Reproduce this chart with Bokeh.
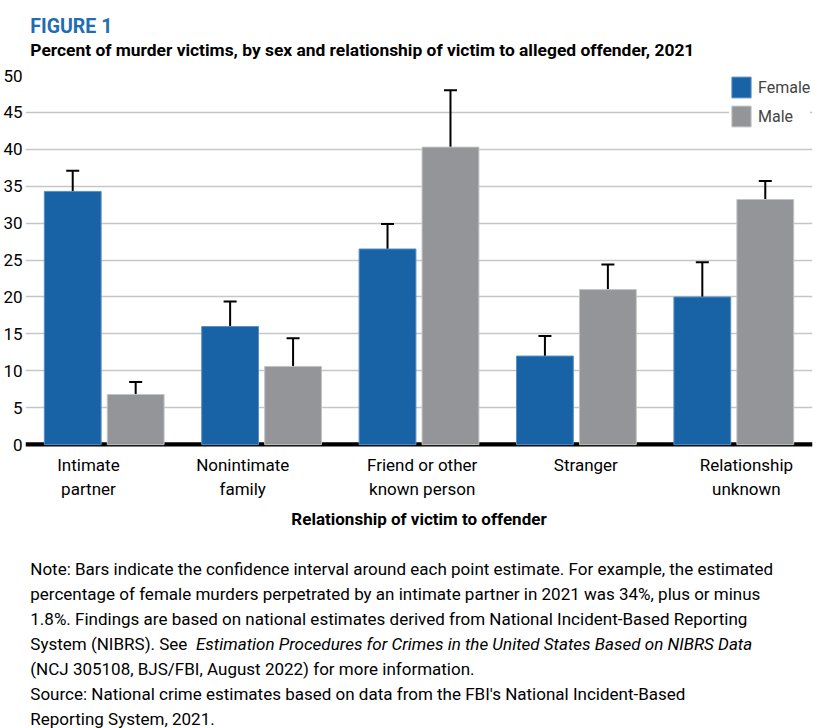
from bokeh.plotting import figure
from bokeh.models import (Range1d, Whisker, TeeHead, Legend, LegendItem,
                          ColumnDataSource, Span, FixedTicker)
from bokeh.transform import dodge
from bokeh.layouts import column
from bokeh.core.properties import value
from bokeh.embed import file_html
from bokeh.resources import INLINE

# ---------------- data ----------------
categories = ["Intimate\npartner", "Nonintimate\nfamily", "Friend or other\nknown person",
              "Stranger", "Relationship\nunknown"]
female = [34.3, 16.0, 26.5, 12.0, 20.0]
female_lo = [31.3, 13.7, 23.8, 10.8, 17.2]
female_hi = [37.1, 19.4, 29.9, 14.7, 24.7]
male = [6.8, 10.6, 40.3, 21.0, 33.2]
male_lo = [4.9, 7.1, 33.2, 18.8, 31.2]
male_hi = [8.5, 14.4, 48.0, 24.4, 35.7]
y_ticks = [0, 5, 10, 15, 20, 25, 30, 35, 40, 45, 50]

fig_label = "FIGURE 1"
subtitle = "Percent of murder victims, by sex and relationship of victim to alleged offender, 2021"
x_title = "Relationship of victim to offender"
note_lines = [
    "Note: Bars indicate the confidence interval around each point estimate. For example, the estimated",
    "percentage of female murders perpetrated by an intimate partner in 2021 was 34%, plus or minus",
    "1.8%. Findings are based on national estimates derived from National Incident-Based Reporting",
    "System (NIBRS). See",
    "(NCJ 305108, BJS/FBI, August 2022) for more information.",
    "Source: National crime estimates based on data from the FBI's National Incident-Based",
    "Reporting System, 2021.",
]
note_italic = "Estimation Procedures for Crimes in the United States Based on NIBRS Data"

# ---------------- style ----------------
FONT = "Roboto"
BLUE = "#1763a6"
GRAY = "#939598"
TITLE_BLUE = "#1f6db3"
W = 822
label_shift = [-0.10, -0.12, 0.02, 0.06, 0.08]   # category label placement tweaks

# ---------------- header ----------------
top = figure(width=W, height=60, x_range=Range1d(0, W), y_range=Range1d(60, 0),
             x_axis_type=None, y_axis_type=None, toolbar_location=None,
             output_backend="svg", min_border=0)
top.outline_line_color = None
top.xgrid.visible = False
top.ygrid.visible = False
top.text(x=[5], y=[26], text=[fig_label], text_font=value(FONT), text_font_style="bold",
         text_font_size="19.5px", text_color=TITLE_BLUE, text_baseline="alphabetic")
top.text(x=[5], y=[49], text=[subtitle], text_font=value(FONT), text_font_style="bold",
         text_font_size="17.4px", text_color="black", text_baseline="alphabetic")

# ---------------- chart ----------------
idx = list(range(len(categories)))
src = ColumnDataSource(dict(idx=idx, f=female, flo=female_lo, fhi=female_hi,
                            m=male, mlo=male_lo, mhi=male_hi))

p = figure(width=W, height=475, x_range=Range1d(-0.5, len(categories) - 0.5),
           y_range=Range1d(-0.25, 50), toolbar_location=None, output_backend="svg",
           min_border_left=23, min_border_right=10, min_border_top=15, min_border_bottom=89)
p.outline_line_color = None
p.xgrid.visible = False
p.ygrid.ticker = FixedTicker(ticks=y_ticks[1:])
p.ygrid.grid_line_color = "#c6c6c6"
p.ygrid.grid_line_width = 1.5

p.add_layout(Span(location=0, dimension="width", line_color="black", line_width=5,
                  level="underlay"))

rf = p.vbar(x=dodge("idx", -0.2), top="f", width=0.361, source=src,
            fill_color=BLUE, line_color="#5b8fc4", line_width=1)
rm = p.vbar(x=dodge("idx", 0.2), top="m", width=0.361, source=src,
            fill_color=GRAY, line_color="#c2c3c5", line_width=1)

for off, lo, hi in ((-0.2, "flo", "fhi"), (0.2, "mlo", "mhi")):
    w = Whisker(source=src, base=dodge("idx", off), lower=lo, upper=hi,
                line_color="black", line_width=2,
                upper_head=TeeHead(size=13, line_width=2, line_color="black"),
                lower_head=TeeHead(size=13, line_width=2, line_color="black"))
    p.add_layout(w)

x_ticks = [i + s for i, s in zip(idx, label_shift)]
p.xaxis.ticker = FixedTicker(ticks=x_ticks)
p.xaxis.major_label_overrides = {t: c for t, c in zip(x_ticks, categories)}
p.yaxis.ticker = FixedTicker(ticks=y_ticks)
for ax in (p.xaxis, p.yaxis):
    ax.axis_line_color = None
    ax.major_tick_line_color = None
    ax.minor_tick_line_color = None
    ax.major_tick_out = 0
    ax.major_tick_in = 0
    ax.minor_tick_out = 0
    ax.minor_tick_in = 0
    ax.major_label_text_font = FONT
    ax.major_label_text_color = "black"
p.yaxis.major_label_text_font_size = "17px"
p.yaxis.major_label_standoff = 3
p.xaxis.major_label_text_font_size = "17px"
p.xaxis.major_label_standoff = 8
p.xaxis.axis_label = x_title
p.xaxis.axis_label_text_font = FONT
p.xaxis.axis_label_text_font_style = "bold"
p.xaxis.axis_label_text_font_size = "17px"
p.xaxis.axis_label_text_color = "black"
p.xaxis.axis_label_standoff = 7

legend = Legend(items=[LegendItem(label="Female", renderers=[rf]),
                       LegendItem(label="Male", renderers=[rm])],
                location=(704, 317), glyph_width=24, glyph_height=26, label_height=26,
                label_text_font=FONT, label_text_font_size="16px", label_standoff=5,
                spacing=3, padding=4, margin=0, border_line_color=None,
                background_fill_color="white", background_fill_alpha=1.0)
p.add_layout(legend)

# ---------------- notes ----------------
bot = figure(width=W, height=193, x_range=Range1d(0, W), y_range=Range1d(193, 0),
             x_axis_type=None, y_axis_type=None, toolbar_location=None,
             output_backend="svg", min_border=0)
bot.outline_line_color = None
bot.xgrid.visible = False
bot.ygrid.visible = False
ys = [33 + 25 * i for i in range(len(note_lines))]
bot.text(x=[5] * len(note_lines), y=ys, text=note_lines, text_font=value(FONT),
         text_font_size="17px", text_color="black", text_baseline="alphabetic")
bot.text(x=[178], y=[ys[3]], text=[note_italic], text_font=value(FONT),
         text_font_style="italic", text_font_size="17px", text_color="black",
         text_baseline="alphabetic")

layout = column(top, p, bot, spacing=0)
open("out.html", "w").write(file_html(layout, INLINE))
